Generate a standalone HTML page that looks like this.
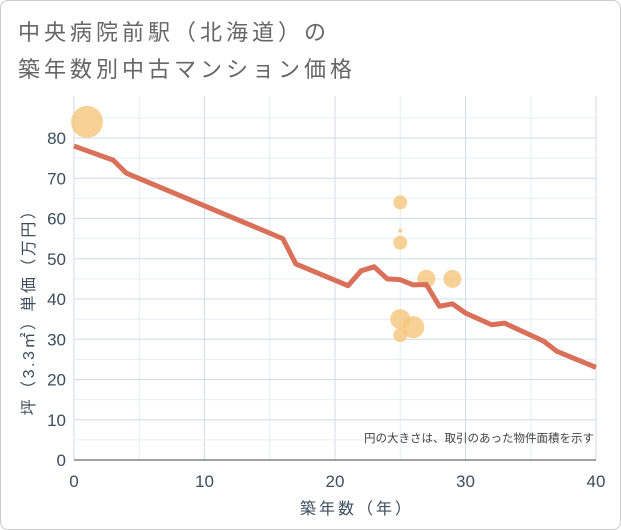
<!DOCTYPE html>
<html><head><meta charset="utf-8"><style>
body{margin:0;background:#fff;font-family:"Liberation Sans","Noto Sans CJK JP",sans-serif}
#wrap{position:relative;width:619px;height:528px;border:1px solid #ccc;border-radius:8px;background:#fff;overflow:hidden}
</style></head><body>
<div id="wrap">
<svg id="chart" width="621" height="530" style="position:absolute;left:-1px;top:-1px">
<text x="18" y="40" font-size="22" letter-spacing="4" fill="#666">中央病院前駅（北海道）の</text>
<text x="18" y="77" font-size="22" letter-spacing="4" fill="#666">築年数別中古マンション価格</text>
<g id="grid"></g><g id="marks"></g><g id="axes"></g>
<text x="594" y="442" font-size="11.5" fill="#444" text-anchor="end">円の大きさは、取引のあった物件面積を示す</text>
<text x="357" y="514" font-size="16" letter-spacing="3" fill="#3d4d5d" text-anchor="middle">築年数（年）</text>
<text transform="translate(34,308) rotate(-90)" font-size="16" letter-spacing="2.5" fill="#3d4d5d" text-anchor="middle">坪（3.3㎡）単価（万円）</text>
</svg></div>
<script>
const xTicks=[0,10,20,30,40];
const yTicks=[0,10,20,30,40,50,60,70,80];
const lineX=[0,3,4,16,17,21,22,23,24,25,26,27,28,29,30,32,33,36,37,40];
const lineY=[78,74.5,71.3,55,48.7,43.3,47,48,45,44.8,43.5,43.6,38.2,38.8,36.5,33.6,34,29.5,27,23];
const bubX=[1,25,25,25,27,29,25,26,25];
const bubY=[84,64,57,54,45,45,35,33,31];
const bubR=[16,7,2,7,9,9,10,11,7];
const X0=74,X1=596,Y0=460,Y1=96;
const sx=v=>X0+(X1-X0)*v/40, sy=v=>Y0-(Y0-138)*v/80;
const NS="http://www.w3.org/2000/svg";
function mk(tag,attrs,parent){const e=document.createElementNS(NS,tag);for(const k in attrs)e.setAttribute(k,attrs[k]);document.getElementById(parent).appendChild(e);return e;}
for(let v=0;v<=40;v+=5){const l=mk('line',{x1:sx(v),x2:sx(v),y1:Y1,y2:Y0,stroke:v%10?'#e6edf3':'#cfdbe6','stroke-width':1},'grid');

}
for(let v=0;v<=85;v+=5){const l=mk('line',{x1:X0,x2:X1,y1:sy(v),y2:sy(v),stroke:v%10?'#e6edf3':'#cfdbe6','stroke-width':1},'grid');

}
xTicks.forEach(v=>{const t=mk('text',{x:sx(v),y:487,'font-size':17,fill:'#3d4d5d','text-anchor':'middle'},'axes');t.textContent=v;

});
yTicks.forEach(v=>{const t=mk('text',{x:66,y:sy(v)+6,'font-size':17,fill:'#3d4d5d','text-anchor':'end'},'axes');t.textContent=v;

});
const ax=mk('line',{x1:X0,x2:X1,y1:Y0,y2:Y0,stroke:'#444','stroke-width':1},'axes');


bubX.forEach((v,i)=>{const c=mk('circle',{cx:sx(v),cy:sy(bubY[i]),r:bubR[i],fill:'#f5c57a','fill-opacity':0.8},'marks');

});
const p=mk('polyline',{points:lineX.map((v,i)=>sx(v)+','+sy(lineY[i])).join(' '),fill:'none',stroke:'#d9705a','stroke-width':5,'stroke-linejoin':'round'},'marks');


</script>
</body></html>
